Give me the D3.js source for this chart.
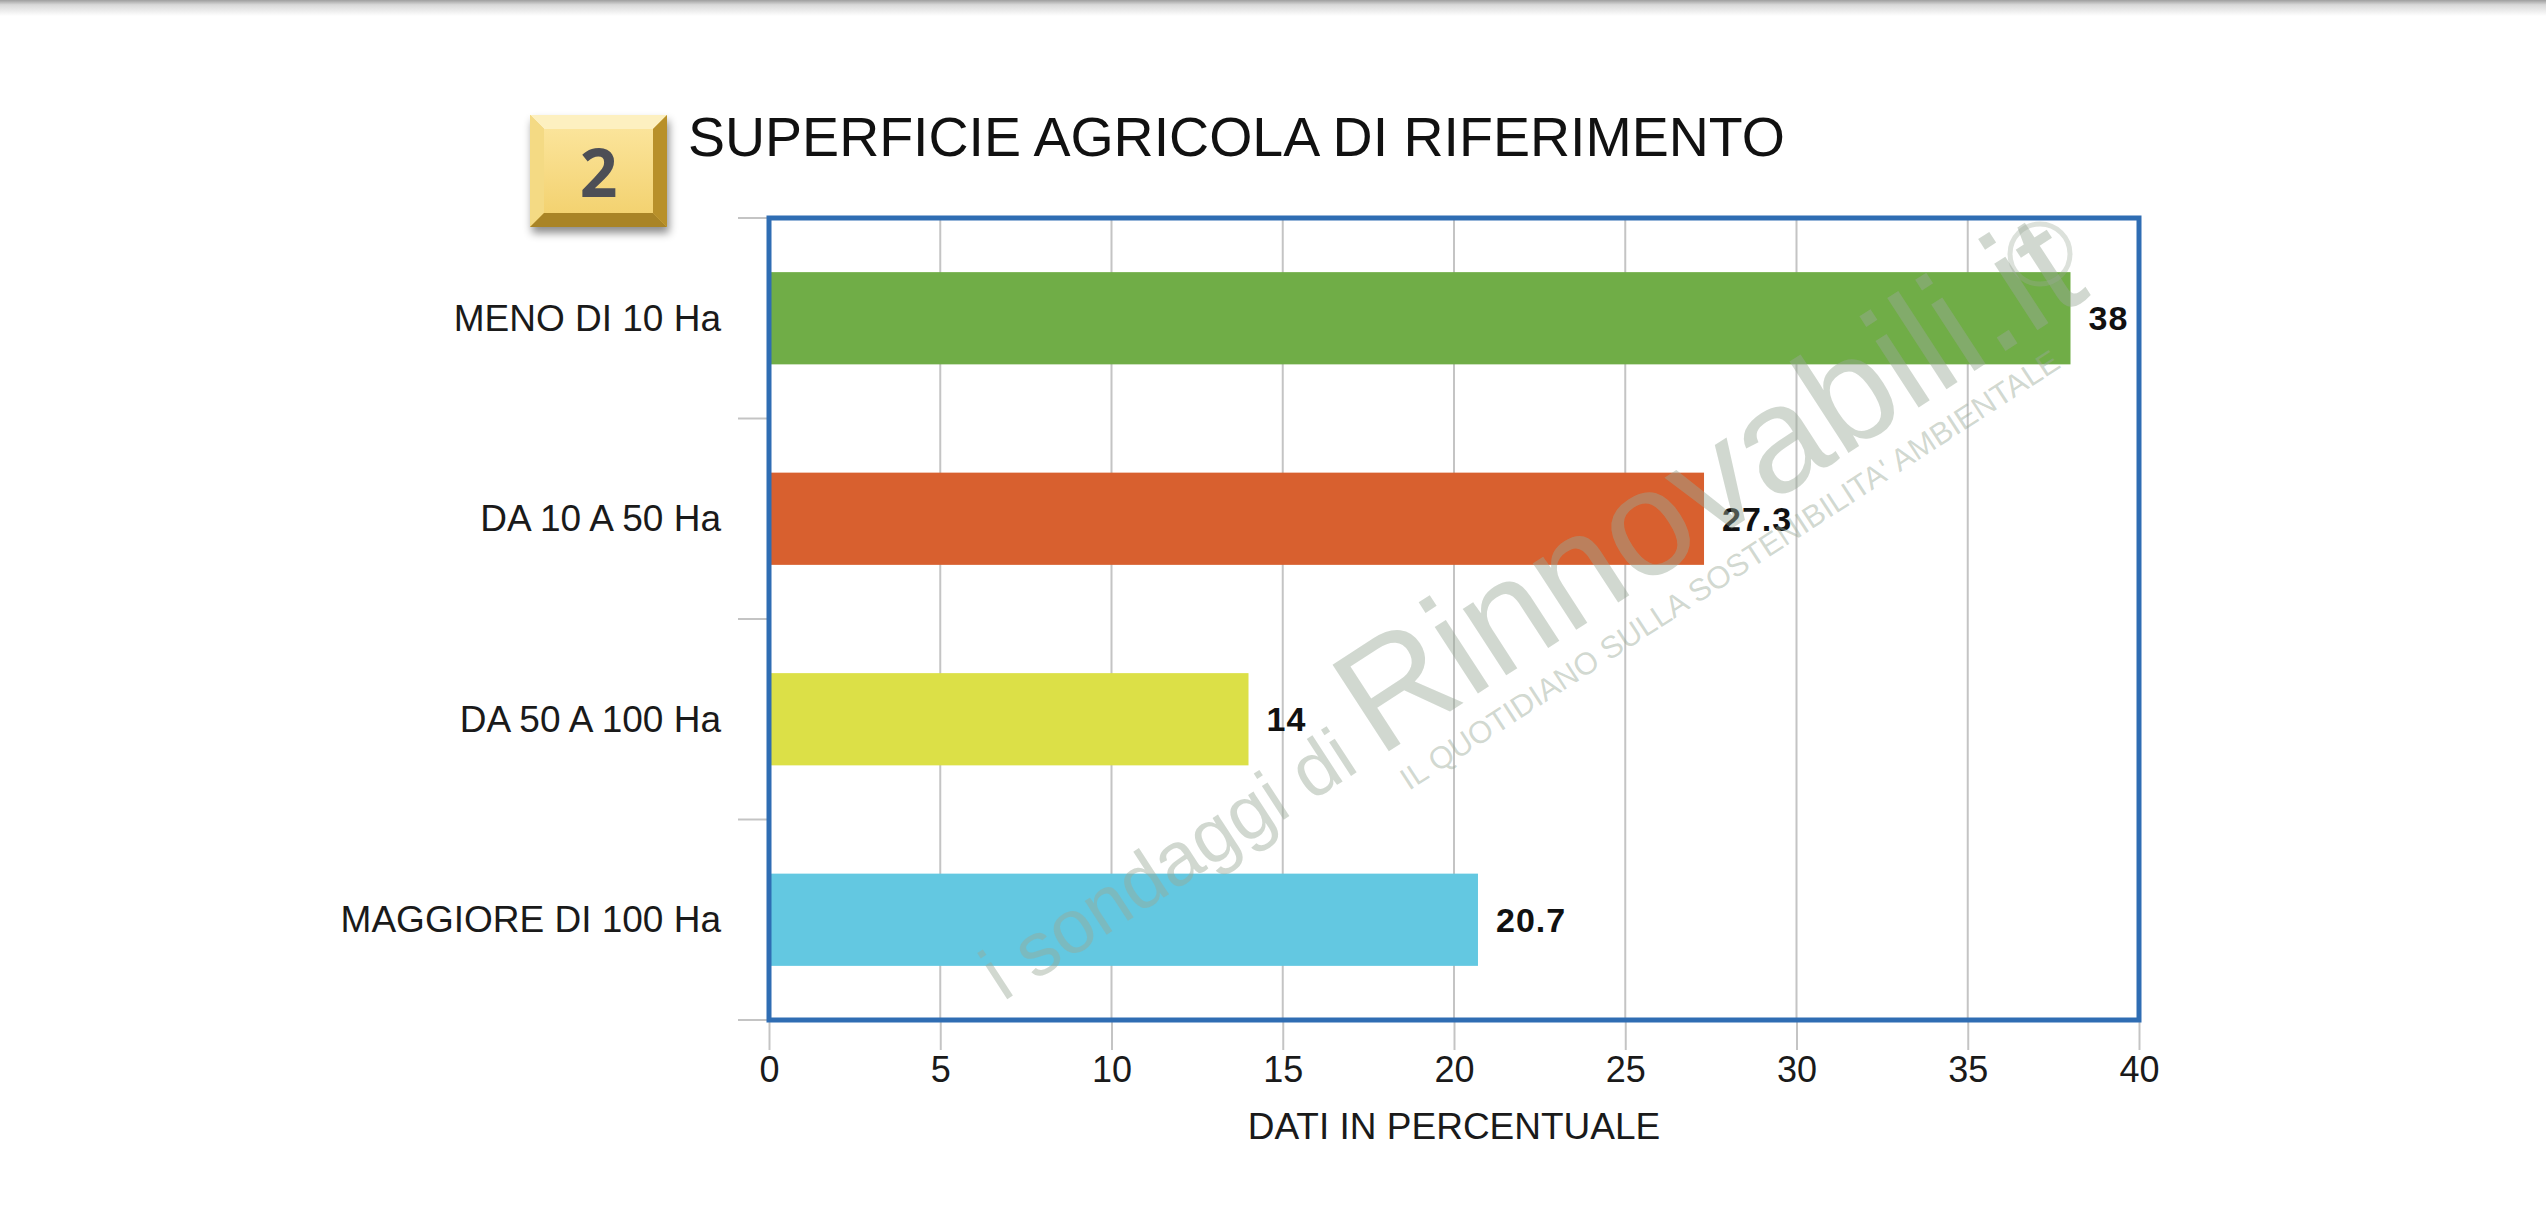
<!DOCTYPE html>
<html>
<head>
<meta charset="utf-8">
<script src="https://cdn.jsdelivr.net/npm/d3@7"></script>
<style>
  html, body { margin: 0; padding: 0; background: #ffffff; }
  svg { display: block; }
</style>
</head>
<body>
<svg id="chart" width="2546" height="1232"></svg>
<script>
// Survey results: share of respondents by farm area
const categories = ["MENO DI 10 Ha", "DA 10 A 50 Ha", "DA 50 A 100 Ha", "MAGGIORE DI 100 Ha"];
const values = [38, 27.3, 14, 20.7];
const valueLabels = ["38", "27.3", "14", "20.7"];
const barColors = ["#70ad47", "#d8602f", "#dce047", "#63c8e1"];
const xTicks = [0, 5, 10, 15, 20, 25, 30, 35, 40];
const chartTitle = "SUPERFICIE AGRICOLA DI RIFERIMENTO";
const xTitle = "DATI IN PERCENTUALE";
const badgeText = "2";

const svg = d3.select("#chart");
const W = 2546, H = 1232;
const plot = { left: 769, right: 2139, top: 218, bottom: 1020 };
const font = "'Liberation Sans', Arial, sans-serif";

const defs = svg.append("defs");

// page shading along the top edge
const topGrad = defs.append("linearGradient").attr("id", "topShade").attr("x1", 0).attr("y1", 0).attr("x2", 0).attr("y2", 1);
topGrad.append("stop").attr("offset", "0").attr("stop-color", "#9e9e9e");
topGrad.append("stop").attr("offset", "0.3").attr("stop-color", "#d8d8d8");
topGrad.append("stop").attr("offset", "1").attr("stop-color", "#ffffff");
svg.append("rect").attr("x", 0).attr("y", 0).attr("width", W).attr("height", 16).attr("fill", "url(#topShade)");

// scales
const x = d3.scaleLinear().domain([0, 40]).range([plot.left, plot.right]);
const y = d3.scaleBand().domain(categories).range([plot.top, plot.bottom]).paddingInner(0.54).paddingOuter(0.27);
const yEdges = d3.scaleLinear().domain([0, categories.length]).range([plot.top, plot.bottom]);

// vertical gridlines
svg.append("g").selectAll("line").data(xTicks).join("line")
  .attr("x1", d => x(d)).attr("x2", d => x(d))
  .attr("y1", plot.top).attr("y2", plot.bottom)
  .attr("stroke", "#c4c4c4").attr("stroke-width", 2);

// bottom axis with ticks extending below the frame
const xAxis = d3.axisBottom(x).tickValues(xTicks).tickSize(30).tickPadding(6).tickFormat(d3.format("d"));
const gx = svg.append("g").attr("transform", `translate(0,${plot.bottom})`).call(xAxis);
gx.select(".domain").remove();
gx.selectAll(".tick line").attr("stroke", "#c4c4c4").attr("stroke-width", 2);
gx.selectAll(".tick text").attr("font-family", font).attr("font-size", 36).attr("fill", "#1a1a1a")
  .attr("y", 36).attr("dy", "0.71em");

// category tick marks to the left of the frame
svg.append("g").selectAll("line").data(d3.range(categories.length + 1)).join("line")
  .attr("x1", plot.left - 31).attr("x2", plot.left)
  .attr("y1", d => yEdges(d)).attr("y2", d => yEdges(d))
  .attr("stroke", "#c4c4c4").attr("stroke-width", 2);

// category labels
svg.append("g").selectAll("text").data(categories).join("text")
  .attr("x", plot.left - 48)
  .attr("y", d => y(d) + y.bandwidth() / 2)
  .attr("text-anchor", "end").attr("dominant-baseline", "central")
  .attr("font-family", font).attr("font-size", 37).attr("fill", "#1a1a1a")
  .text(d => d);

// bars
svg.append("g").selectAll("rect").data(categories).join("rect")
  .attr("x", x(0))
  .attr("y", d => y(d))
  .attr("width", (d, i) => x(values[i]) - x(0))
  .attr("height", y.bandwidth())
  .attr("fill", (d, i) => barColors[i]);

// value labels
svg.append("g").selectAll("text").data(categories).join("text")
  .attr("x", (d, i) => x(values[i]) + 18)
  .attr("y", d => y(d) + y.bandwidth() / 2)
  .attr("dominant-baseline", "central")
  .attr("font-family", font).attr("font-size", 34).attr("font-weight", "bold")
  .attr("letter-spacing", 1).attr("fill", "#111")
  .text((d, i) => valueLabels[i]);

// watermark, laid over the bars
const wmColor = "#9aa997";
const wm = svg.append("g").attr("pointer-events", "none");
const wmMain = wm.append("text")
  .attr("transform", "translate(1003,1002) rotate(-33)")
  .attr("font-family", font).attr("fill", wmColor).attr("fill-opacity", 0.45);
wmMain.append("tspan").attr("font-size", 76).text("i sondaggi di ");
wmMain.append("tspan").attr("font-size", 150).text("Rinnovabili.it");
wm.append("text")
  .attr("transform", "translate(1409,791) rotate(-33)")
  .attr("font-family", font).attr("font-size", 31)
  .attr("fill", wmColor).attr("fill-opacity", 0.45)
  .text("IL QUOTIDIANO SULLA SOSTENIBILITA' AMBIENTALE");
wm.append("circle").attr("cx", 2040).attr("cy", 254).attr("r", 30)
  .attr("fill", "none").attr("stroke", wmColor).attr("stroke-opacity", 0.35).attr("stroke-width", 5);

// plot frame
svg.append("rect")
  .attr("x", plot.left).attr("y", plot.top)
  .attr("width", plot.right - plot.left).attr("height", plot.bottom - plot.top)
  .attr("fill", "none").attr("stroke", "#2f6db3").attr("stroke-width", 5);

// axis title
svg.append("text").attr("x", (plot.left + plot.right) / 2).attr("y", 1139)
  .attr("text-anchor", "middle").attr("font-family", font).attr("font-size", 37).attr("fill", "#1a1a1a")
  .text(xTitle);

// chart title
svg.append("text").attr("x", 688).attr("y", 156)
  .attr("font-family", font).attr("font-size", 55.5).attr("fill", "#111")
  .text(chartTitle);

// numbered bevelled badge
const shadow = defs.append("filter").attr("id", "badgeShadow").attr("x", "-20%").attr("y", "-20%").attr("width", "150%").attr("height", "160%");
shadow.append("feDropShadow").attr("dx", 2).attr("dy", 6).attr("stdDeviation", 4).attr("flood-color", "#000").attr("flood-opacity", 0.45);
const faceGrad = defs.append("linearGradient").attr("id", "badgeFace").attr("x1", 0).attr("y1", 0).attr("x2", 0).attr("y2", 1);
faceGrad.append("stop").attr("offset", "0").attr("stop-color", "#fbe49a");
faceGrad.append("stop").attr("offset", "1").attr("stop-color", "#f3d270");

const bx = 530, by = 115, bw = 137, bh = 112, bev = 14;
const badge = svg.append("g").attr("filter", "url(#badgeShadow)");
badge.append("rect").attr("x", bx).attr("y", by).attr("width", bw).attr("height", bh).attr("fill", "#e9c660");
const bevels = [
  { pts: [[bx, by], [bx + bw, by], [bx + bw - bev, by + bev], [bx + bev, by + bev]], c: "#fdf0c0" },
  { pts: [[bx, by], [bx + bev, by + bev], [bx + bev, by + bh - bev], [bx, by + bh]], c: "#f4da84" },
  { pts: [[bx + bw, by], [bx + bw, by + bh], [bx + bw - bev, by + bh - bev], [bx + bw - bev, by + bev]], c: "#b8902c" },
  { pts: [[bx, by + bh], [bx + bev, by + bh - bev], [bx + bw - bev, by + bh - bev], [bx + bw, by + bh]], c: "#a98426" }
];
badge.selectAll("polygon").data(bevels).join("polygon")
  .attr("points", d => d.pts.map(p => p.join(",")).join(" "))
  .attr("fill", d => d.c);
svg.append("rect").attr("x", bx + bev).attr("y", by + bev).attr("width", bw - 2 * bev).attr("height", bh - 2 * bev)
  .attr("fill", "url(#badgeFace)");
svg.append("text").attr("x", bx + bw / 2).attr("y", 197)
  .attr("text-anchor", "middle").attr("font-family", "'Open Sans', sans-serif").attr("font-weight", 700)
  .attr("font-size", 66).attr("fill", "#4d4f56")
  .text(badgeText);
</script>
</body>
</html>
